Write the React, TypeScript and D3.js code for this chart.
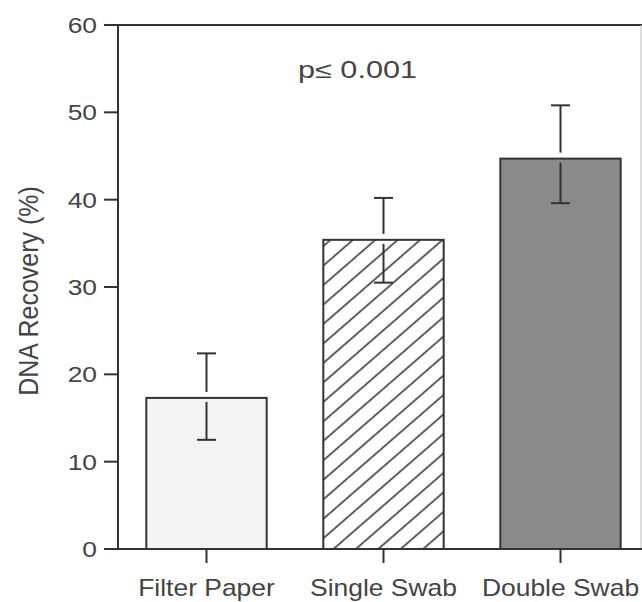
import React from 'react';
import * as d3 from 'd3';

// values
const categories = ['Filter Paper', 'Single Swab', 'Double Swab'];
const means = [17.3, 35.4, 44.7];
const errTop = [22.4, 40.2, 50.8];
const errBottom = [12.5, 30.5, 39.6];
const yTicks = [0, 10, 20, 30, 40, 50, 60];
const fills = ['#f3f3f3', 'url(#hatch)', '#8a8a8a'];

const W = 642;
const H = 602;
const left = 118;
const top = 25;
const bottom = 549;

const font = '"Liberation Sans", Arial, Helvetica, sans-serif';
const ink = '#333';
const textCol = '#444';

export default function App() {
  const y = d3.scaleLinear().domain([0, 60]).range([bottom, top]);
  const x = d3.scaleBand<string>()
    .domain(categories)
    .range([left, 649])
    .paddingInner(0.32)
    .paddingOuter(0.16);
  const bw = x.bandwidth();
  const cap = 19;

  return (
    <svg width={W} height={H} style={{ position: 'absolute', left: 0, top: 0, background: '#fff' }}>
      <defs>
        <pattern id="hatch" patternUnits="userSpaceOnUse" width={14.7} height={10}
          patternTransform="rotate(49)">
          <rect width={14.7} height={10} fill="#fff" />
          <line x1={1} y1={0} x2={1} y2={10} stroke="#3a3a3a" strokeWidth={1.6} />
        </pattern>
      </defs>

      {/* frame */}
      <line x1={104} x2={W} y1={top} y2={top} stroke={ink} strokeWidth={2} />
      <line x1={641} x2={641} y1={top} y2={bottom} stroke="#bbb" strokeWidth={1} />

      {/* bars */}
      {categories.map((c, i) => {
        const x0 = x(c)!;
        const cx = x0 + bw / 2;
        const yb = y(means[i]);
        return (
          <g key={c}>
            <rect x={x0} y={yb} width={bw} height={bottom - yb}
              fill={fills[i]} stroke={ink} strokeWidth={2} />
            <line x1={cx} x2={cx} y1={y(errTop[i])} y2={yb - 6} stroke={ink} strokeWidth={2} />
            <line x1={cx - cap / 2} x2={cx + cap / 2} y1={y(errTop[i])} y2={y(errTop[i])} stroke={ink} strokeWidth={2} />
            <line x1={cx} x2={cx} y1={yb + 4} y2={y(errBottom[i])} stroke={ink} strokeWidth={2} />
            <line x1={cx - cap / 2} x2={cx + cap / 2} y1={y(errBottom[i])} y2={y(errBottom[i])} stroke={ink} strokeWidth={2} />
            <line x1={cx} x2={cx} y1={bottom} y2={bottom + 14} stroke={ink} strokeWidth={2} />
            <g transform={`translate(${cx},596) scale(1.15,1)`}>
              <text textAnchor="middle" fontFamily={font} fontSize={23} fill={textCol}>{c}</text>
            </g>
          </g>
        );
      })}

      {/* axes */}
      <line x1={left} x2={left} y1={top} y2={bottom} stroke={ink} strokeWidth={2} />
      <line x1={104} x2={W} y1={bottom} y2={bottom} stroke={ink} strokeWidth={2} />
      {yTicks.map(t => (
        <g key={t}>
          <line x1={104} x2={left} y1={y(t)} y2={y(t)} stroke={ink} strokeWidth={2} />
          <g transform={`translate(97,${y(t)}) scale(1.2,1)`}>
            <text textAnchor="end" dy="0.36em" fontFamily={font} fontSize={22} fill={textCol}>{t}</text>
          </g>
        </g>
      ))}

      <g transform={`translate(28,291) scale(1.12,1) rotate(-90)`}>
        <text textAnchor="middle" dy="0.35em" fontFamily={font} fontSize={25} fill={textCol}>DNA Recovery (%)</text>
      </g>

      <text x={298} y={78} textLength={119} lengthAdjust="spacingAndGlyphs"
        fontFamily={font} fontSize={23} fill={textCol}>p≤ 0.001</text>
    </svg>
  );
}
